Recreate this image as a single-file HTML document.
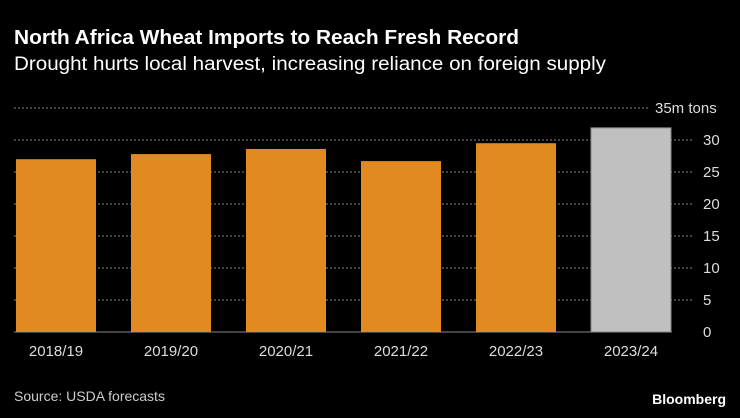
<!DOCTYPE html>
<html><head><meta charset="utf-8"><style>
body{margin:0;background:#000;width:740px;height:418px;overflow:hidden;font-family:"Liberation Sans",sans-serif;color:#fff}
</style></head><body>
<svg width="740" height="418" style="position:absolute;left:0;top:0">
<text x="14" y="44" font-size="20" font-weight="bold" fill="#fff" textLength="505" lengthAdjust="spacingAndGlyphs">North Africa Wheat Imports to Reach Fresh Record</text>
<text x="14" y="70" font-size="19" fill="#fff" textLength="592" lengthAdjust="spacingAndGlyphs">Drought hurts local harvest, increasing reliance on foreign supply</text>
<g id="grid"></g><g id="bars"></g><g id="ylabels"></g><g id="xlabels"></g>
<text x="14" y="401" font-size="14" fill="#ccc">Source: USDA forecasts</text>
<text x="726" y="404" font-size="14" font-weight="bold" fill="#fff" text-anchor="end">Bloomberg</text>
</svg>
<script>
const categories=["2018/19","2019/20","2020/21","2021/22","2022/23","2023/24"];
const values=[27.0,27.8,28.6,26.7,29.5,31.9];
const ticks=[0,5,10,15,20,25,30,35];
const ns="http://www.w3.org/2000/svg";
function y(v){return 332-v*6.4;}
function x(i){return 16+i*115;}
function mk(t,a,p){const e=document.createElementNS(ns,t);for(const k in a)e.setAttribute(k,a[k]);document.getElementById(p).appendChild(e);return e;}
ticks.forEach(t=>{
 if(t>0){const l=mk("line",{x1:14,x2:t===35?650:692,y1:y(t),y2:y(t),stroke:"#888","stroke-dasharray":"2,2","stroke-width":1},"grid");
 
 }
 const tx=mk("text",{x:t===35?655:703,y:y(t)+5,"font-size":15,fill:"#ddd"},"ylabels");
 tx.textContent=t===35?"35m tons":String(t);
 
 
});
categories.forEach((c,i)=>{
 const last=i===categories.length-1;
 const r=mk("rect",{x:x(i),y:y(values[i]),width:80,height:332-y(values[i]),fill:last?"#c0c0c0":"#e08a20",stroke:last?"#888":"none"},"bars");
 
 
 const t=mk("text",{x:x(i)+40,y:356,"font-size":15,fill:"#ddd","text-anchor":"middle"},"xlabels");
 t.textContent=c;
 
 
});
const b=mk("line",{x1:14,x2:672,y1:332,y2:332,stroke:"#888"},"grid");


</script>
</body></html>
